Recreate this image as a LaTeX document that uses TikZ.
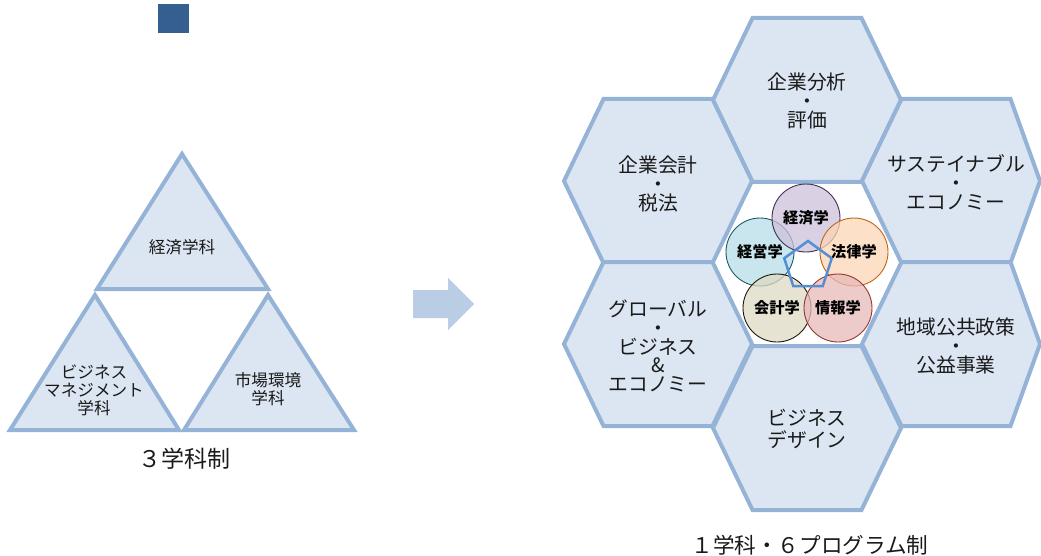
\documentclass[tikz,border=0pt]{standalone}
\usepackage{fontspec}
\setmainfont{Noto Sans CJK JP}
\usetikzlibrary{shapes.geometric}
\definecolor{hexline}{HTML}{95B3D7}
\definecolor{hexfill}{HTML}{DCE6F2}
\definecolor{arrowc}{HTML}{B9CDE5}
\definecolor{sqc}{HTML}{355E91}
\definecolor{pentc}{HTML}{558ED5}
\definecolor{txt}{HTML}{1A1A1A}
\definecolor{fA}{HTML}{CCC1DA}\definecolor{dA}{HTML}{403152}
\definecolor{fB}{HTML}{B7DEE8}\definecolor{dB}{HTML}{215968}
\definecolor{fC}{HTML}{FCD5B5}\definecolor{dC}{HTML}{C0651A}
\definecolor{fD}{HTML}{DDD9C3}\definecolor{dD}{HTML}{1D1B10}
\definecolor{fE}{HTML}{E6B9B8}\definecolor{dE}{HTML}{953735}
\newcommand\myhex[3]{%
  \draw[hexshape,shift={(#1,#2)}] (-54.5,-82) -- (54.5,-82) -- (#3,0) -- (54.5,82) -- (-54.5,82) -- (-94,0) -- cycle;}
\begin{document}
\begin{tikzpicture}[x=1pt,y=-1pt,
  hexshape/.style={draw=hexline,fill=hexfill,line width=4pt,line join=miter},
  tri/.style={draw=hexline,fill=hexfill,line width=4pt,line join=miter},
  hextext/.style={align=center,text=txt,inner sep=0pt,font=\fontsize{19.8}{18.8}\selectfont},
  tritext/.style={align=center,text=txt,inner sep=0pt,font=\fontsize{16.6}{18}\selectfont},
  captext/.style={text=txt,inner sep=0pt,font=\fontsize{21.6}{23}\selectfont},
  circ/.style={circle,minimum size=68pt,inner sep=0pt,line width=0.9pt,fill opacity=0.75},
  circtext/.style={inner sep=0pt,text=black,font=\fontsize{15.2}{16}\selectfont\bfseries}]
\useasboundingbox (0,0) rectangle (1041,556);
% square
\fill[sqc] (158,4) rectangle (189,33);
% triangles
\draw[tri] (182,154) -- (268,289) -- (97,289) -- cycle;
\draw[tri] (95,295) -- (179,430) -- (10,430) -- cycle;
\draw[tri] (268,295) -- (354,430) -- (184,430) -- cycle;
\node[tritext] (t1) at (182,247) {経済学科};
\node[tritext] (t2) at (94,390) {ビジネス\\マネジメント\\学科};
\node[tritext] (t3) at (268,389) {市場環境\\学科};
\node[captext,font=\fontsize{23}{24}\selectfont] (cap1) at (184,459) {３学科制};
% arrow
\fill[arrowc] (413,290) -- (448,290) -- (448,278) -- (474,304) -- (448,330) -- (448,318) -- (413,318) -- cycle;
% hexagons
\myhex{807}{100}{94}
\myhex{658}{181}{94}
\myhex{956}{181}{84}
\myhex{658}{344}{94}
\myhex{956}{344}{84}
\myhex{807}{428}{94}
\node[hextext] (h1) at (807,101) {企業分析\\・\\評価};
\node[hextext] (h2) at (658,184) {企業会計\\・\\税法};
\node[hextext] (h3) at (956,182) {サステイナブル\\・\\エコノミー};
\node[hextext] (h4) at (658,346) {グローバル\\・\\ビジネス\\\&\\エコノミー};
\node[hextext] (h5) at (956,346) {地域公共政策\\・\\公益事業};
\node[hextext,font=\fontsize{19.8}{22}\selectfont] (h6) at (807,429) {ビジネス\\デザイン};
% circles
\node[circ,fill=fB,draw=dB] (cB) at (760,252) {};
\node[circ,fill=fA,draw=dA] (cA) at (806,218) {};
\node[circ,fill=fC,draw=dC] (cC) at (854,252) {};
\node[circ,fill=fD,draw=dD] (cD) at (777,308) {};
\node[circ,fill=fE,draw=dE] (cE) at (838,308) {};
\node[regular polygon,regular polygon sides=5,minimum size=50pt,inner sep=0pt,draw=pentc,line width=2.5pt] (pent) at (808,266) {};
\node[circtext] (lA) at (cA.center) {経済学};
\node[circtext] (lB) at (cB.center) {経営学};
\node[circtext] (lC) at (cC.center) {法律学};
\node[circtext] (lD) at (cD.center) {会計学};
\node[circtext] (lE) at (cE.center) {情報学};
\node[captext] (cap2) at (810,545) {１学科・６プログラム制};
\end{tikzpicture}
\end{document}
